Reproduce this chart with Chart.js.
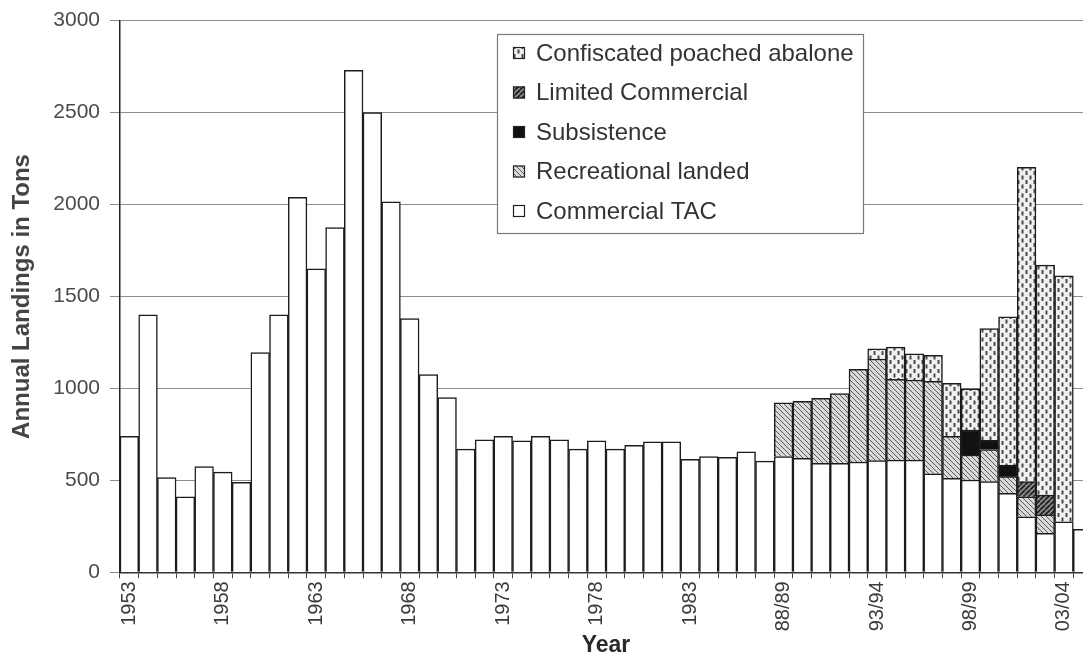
<!DOCTYPE html>
<html>
<head>
<meta charset="utf-8">
<script src="https://cdn.jsdelivr.net/npm/chart.js@4.4.1/dist/chart.umd.min.js"></script>
<style>
  html, body { margin: 0; padding: 0; background: #ffffff; overflow: hidden; }
  #wrap { width: 1092px; height: 654px; }
</style>
</head>
<body>
<div id="wrap"><canvas id="c" width="1092" height="654"></canvas></div>
<script>
// Fishing seasons: calendar years up to 1987, split seasons afterwards
const seasons = [
  '1953','1954','1955','1956','1957','1958','1959','1960','1961','1962',
  '1963','1964','1965','1966','1967','1968','1969','1970','1971','1972',
  '1973','1974','1975','1976','1977','1978','1979','1980','1981','1982',
  '1983','1984','1985','1986','1987',
  '88/89','89/90','90/91','91/92','92/93','93/94','94/95','95/96','96/97',
  '97/98','98/99','99/00','00/01','01/02','02/03','03/04','04/05'
];

// Annual landings in tons, per sector
const commercialTAC = [
  740, 1400, 515, 410, 575, 545, 490, 1195, 1400, 2040,
  1650, 1875, 2730, 2500, 2015, 1380, 1075, 950, 670, 720,
  740, 715, 740, 720, 670, 715, 670, 690, 710, 710,
  615, 630, 625, 655, 605,
  630, 620, 593, 593, 600, 607, 610, 610, 535,
  511, 502, 493, 430, 302, 212, 275, 234
];

const recreationalLanded = [
  null, null, null, null, null, null, null, null, null, null,
  null, null, null, null, null, null, null, null, null, null,
  null, null, null, null, null, null, null, null, null, null,
  null, null, null, null, null,
  292, 310, 353, 379, 504, 553, 440, 435, 503,
  229, 136, 175, 90, 109, 100, null, null
];

const subsistence = [
  null, null, null, null, null, null, null, null, null, null,
  null, null, null, null, null, null, null, null, null, null,
  null, null, null, null, null, null, null, null, null, null,
  null, null, null, null, null,
  null, null, null, null, null, null, null, null, null,
  null, 136, 50, 63, null, null, null, null
];

const limitedCommercial = [
  null, null, null, null, null, null, null, null, null, null,
  null, null, null, null, null, null, null, null, null, null,
  null, null, null, null, null, null, null, null, null, null,
  null, null, null, null, null,
  null, null, null, null, null, null, null, null, null,
  null, null, null, null, 82, 108, null, null
];

const confiscatedPoached = [
  null, null, null, null, null, null, null, null, null, null,
  null, null, null, null, null, null, null, null, null, null,
  null, null, null, null, null, null, null, null, null, null,
  null, null, null, null, null,
  null, null, null, null, null, 55, 175, 143, 142,
  288, 224, 607, 807, 1709, 1251, 1338, null
];

const yTicks = [0, 500, 1000, 1500, 2000, 2500, 3000];

// ---- fill patterns ----
function makePattern(w, h, draw) {
  const c = document.createElement('canvas');
  c.width = w; c.height = h;
  const g = c.getContext('2d');
  draw(g, w, h);
  return g.createPattern(c, 'repeat');
}

// light "\" hatching
const recreationalFill = makePattern(5, 5, (g, w, h) => {
  g.fillStyle = '#d9d9d9'; g.fillRect(0, 0, w, h);
  g.strokeStyle = '#5a5a5a'; g.lineWidth = 1.0;
  g.beginPath();
  for (let x = -w; x <= w; x += w) { g.moveTo(x, 0); g.lineTo(x + w, h); }
  g.stroke();
});

// dark "/" hatching
const limitedFill = makePattern(5, 5, (g, w, h) => {
  g.fillStyle = '#8a8a8a'; g.fillRect(0, 0, w, h);
  g.strokeStyle = '#1c1c1c'; g.lineWidth = 1.6;
  g.beginPath();
  for (let x = 0; x <= 2 * w; x += w) { g.moveTo(x, 0); g.lineTo(x - w, h); }
  g.stroke();
});

// staggered short dashes
const confiscatedFill = makePattern(8, 9, (g, w, h) => {
  g.fillStyle = '#f0f0f0'; g.fillRect(0, 0, w, h);
  g.fillStyle = '#4a4a4a';
  g.fillRect(1.5, 0, 2, 4);
  g.fillRect(5.5, 4.5, 2, 4);
});

// ---- boxed legend inside the plot ----
const boxedLegend = {
  id: 'boxedLegend',
  afterDatasetsDraw(chart) {
    const g = chart.ctx;
    const x0 = 497, y0 = 34, w = 366, h = 199;
    g.save();
    g.fillStyle = '#ffffff';
    g.fillRect(x0, y0, w, h);
    g.strokeStyle = '#7a7a7a';
    g.lineWidth = 1.2;
    g.strokeRect(x0 + 0.5, y0 + 0.5, w, h);
    const items = chart.data.datasets.slice().reverse();
    g.font = '24px "Liberation Sans", Arial, sans-serif';
    g.textBaseline = 'middle';
    items.forEach((ds, i) => {
      const cy = 53 + i * 39.5;
      g.fillStyle = ds.backgroundColor;
      g.fillRect(513, cy - 6, 12, 12);
      g.strokeStyle = '#222222';
      g.lineWidth = 1.2;
      g.strokeRect(513.5, cy - 5.5, 11, 11);
      g.fillStyle = '#333333';
      g.fillText(ds.label, 536, cy + 1);
    });
    g.restore();
  }
};

const ctx = document.getElementById('c').getContext('2d');
new Chart(ctx, {
  type: 'bar',
  data: {
    labels: seasons,
    datasets: [
      { label: 'Commercial TAC', data: commercialTAC, backgroundColor: '#ffffff' },
      { label: 'Recreational landed', data: recreationalLanded, backgroundColor: recreationalFill },
      { label: 'Subsistence', data: subsistence, backgroundColor: '#111111' },
      { label: 'Limited Commercial', data: limitedCommercial, backgroundColor: limitedFill },
      { label: 'Confiscated poached abalone', data: confiscatedPoached, backgroundColor: confiscatedFill }
    ]
  },
  options: {
    responsive: false,
    animation: false,
    devicePixelRatio: 1,
    datasets: {
      bar: {
        borderColor: '#1c1c1c',
        borderWidth: 1.5,
        borderSkipped: 'start',
        categoryPercentage: 1.0,
        barPercentage: 1.0
      }
    },
    layout: { padding: { top: 20.7, left: 0, right: 0, bottom: 0 } },
    plugins: {
      legend: { display: false },
      tooltip: { enabled: false }
    },
    scales: {
      x: {
        stacked: true,
        offset: true,
        afterFit(scale) {
          scale.height = 81.7;
          scale.paddingLeft = 0;
          scale.paddingRight = 0;
        },
        grid: {
          display: true,
          drawOnChartArea: false,
          drawTicks: true,
          tickLength: 6,
          color: '#444444',
          offset: true
        },
        border: { display: true, color: '#333333', width: 1.5 },
        ticks: {
          autoSkip: false,
          maxRotation: 90,
          minRotation: 90,
          padding: 3,
          color: '#3a3a3a',
          font: { family: '"Liberation Sans", Arial, sans-serif', size: 20 },
          callback(value, index) {
            return index % 5 === 0 ? seasons[index] : '';
          }
        },
        title: {
          display: true,
          text: 'Year',
          color: '#2a2a2a',
          font: { family: '"Liberation Sans", Arial, sans-serif', size: 23, weight: 'bold', lineHeight: 0.7 },
          padding: { top: 0, bottom: 0 }
        }
      },
      y: {
        stacked: true,
        min: 0,
        max: 3000,
        afterBuildTicks(scale) {
          scale.ticks = yTicks.map(v => ({ value: v }));
        },
        afterFit(scale) {
          scale.width = 120;
          scale.paddingTop = 0;
          scale.paddingBottom = 0;
        },
        grid: {
          color: '#8c8c8c',
          lineWidth: 1,
          tickLength: 10
        },
        border: { display: true, color: '#222222', width: 1.5 },
        ticks: {
          padding: 10,
          color: '#4a4a4a',
          font: { family: '"Liberation Sans", Arial, sans-serif', size: 21 },
          callback(value) {
            return String(value);
          }
        },
        title: {
          display: true,
          text: 'Annual Landings in Tons',
          color: '#444444',
          font: { family: '"Liberation Sans", Arial, sans-serif', size: 24, weight: 'bold', lineHeight: 1 },
          padding: { top: 10.5, bottom: 0 }
        }
      }
    }
  },
  plugins: [boxedLegend]
});
</script>
</body>
</html>
